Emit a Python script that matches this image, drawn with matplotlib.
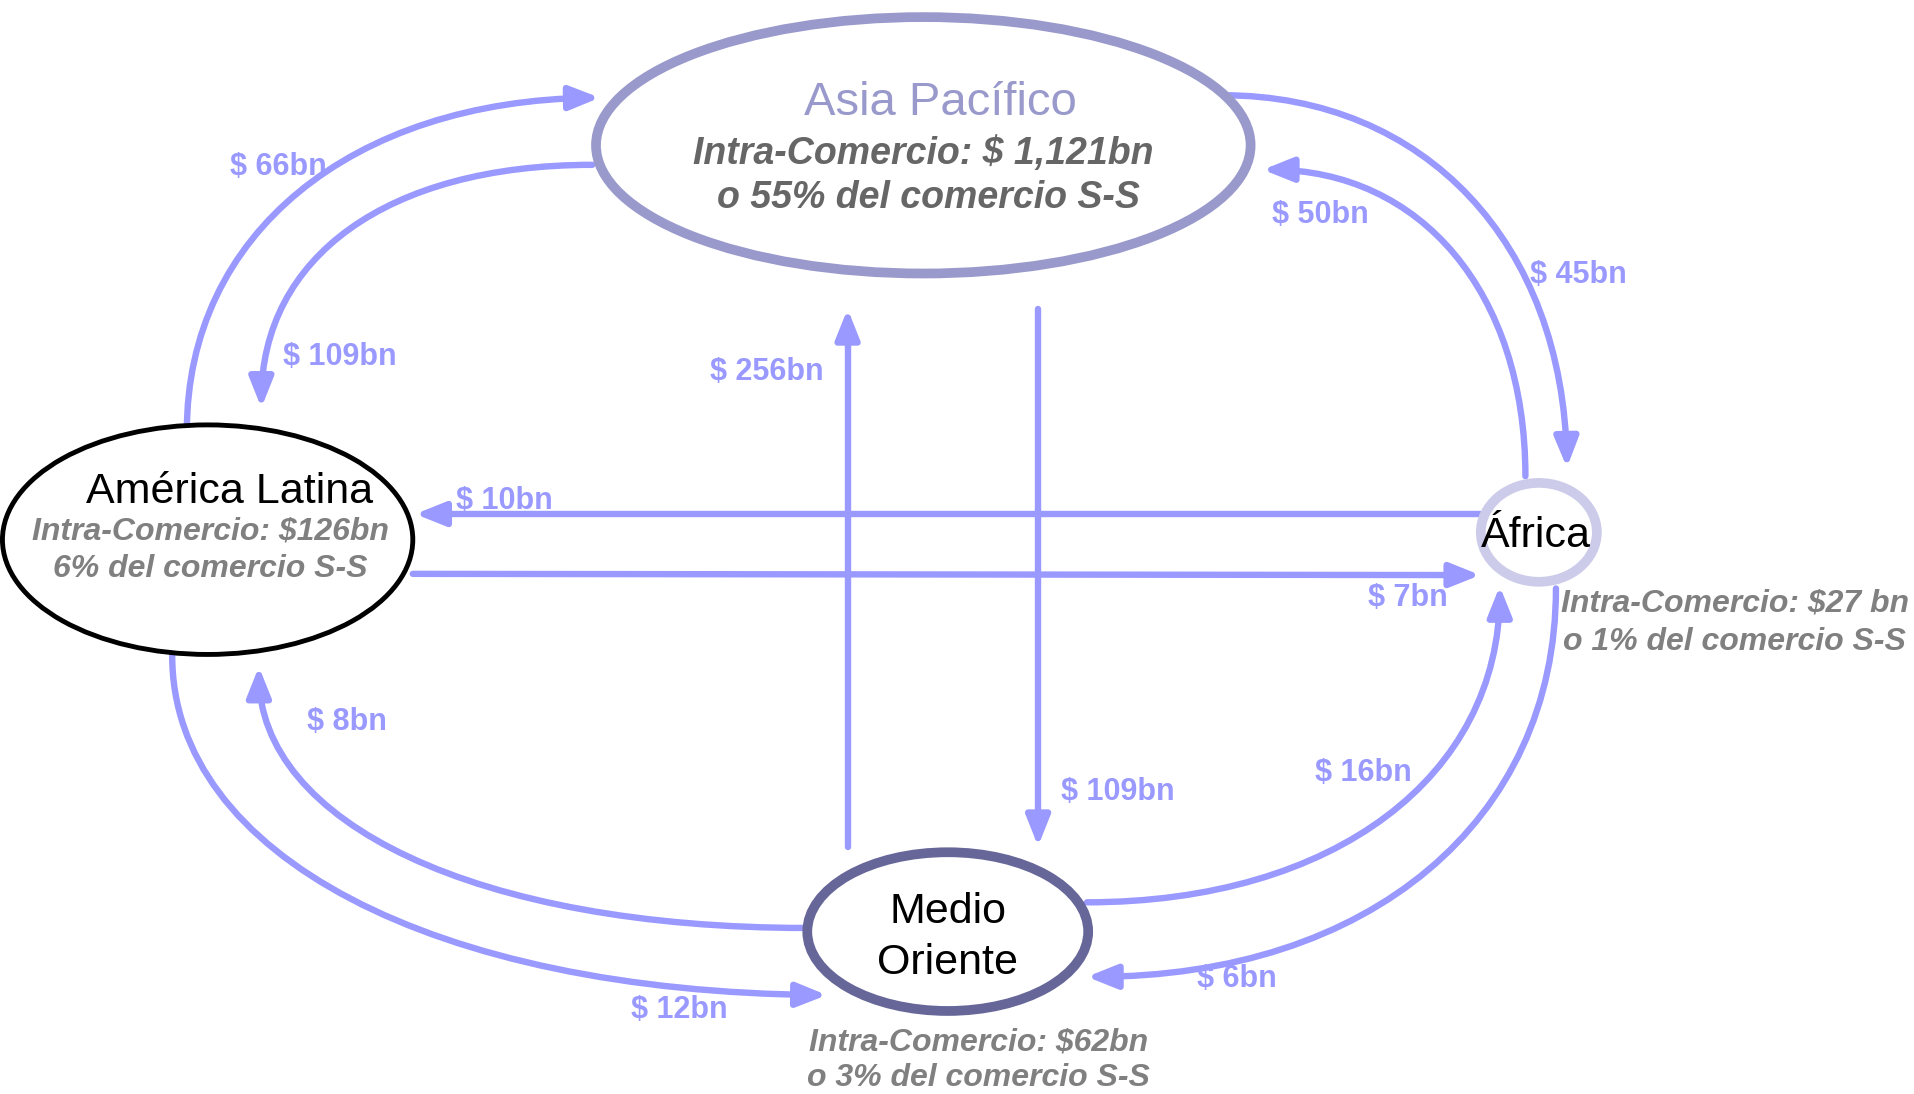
import matplotlib
matplotlib.use("Agg")
import matplotlib.pyplot as plt
from matplotlib.patches import Ellipse, FancyArrowPatch, ArrowStyle
from matplotlib.path import Path

plt.rcParams["font.family"] = ["Liberation Sans", "DejaVu Sans"]

# regions and their intra-regional trade
regions = ["Asia Pacífico", "América Latina", "África", "Medio\nOriente"]
intra_trade = ["Intra-Comercio: $ 1,121bn", "Intra-Comercio: $126bn",
               "Intra-Comercio: $27 bn", "Intra-Comercio: $62bn"]
intra_share = ["o 55% del comercio S-S", "6% del comercio S-S",
               "o 1% del comercio S-S", "o 3% del comercio S-S"]

# flows between regions (bn USD), in drawing order
flow_values = [66, 109, 45, 50, 10, 7, 256, 109, 8, 12, 16, 6]

FLOW = "#9999ff"
GREY = "#808080"

fig = plt.figure(figsize=(19.15, 10.94), dpi=100)
ax = fig.add_axes([0, 0, 1, 1])
ax.set_xlim(0, 1568)
ax.set_ylim(896, 0)
ax.axis("off")

style = ArrowStyle("-|>", head_length=0.9, head_width=0.36)


def curve(p0, p3, corner, k=0.6):
    # cubic bezier bent toward the corner point
    p1 = (p0[0] + k * (corner[0] - p0[0]), p0[1] + k * (corner[1] - p0[1]))
    p2 = (p3[0] + k * (corner[0] - p3[0]), p3[1] + k * (corner[1] - p3[1]))
    return Path([p0, p1, p2, p3], [Path.MOVETO, Path.CURVE4, Path.CURVE4, Path.CURVE4])


def straight(p0, p1):
    return Path([p0, p1], [Path.MOVETO, Path.LINETO])


paths = [
    curve((153, 353), (491, 80), (153, 84)),
    curve((485, 135), (214, 334), (214, 135), 0.62),
    curve((1001, 78), (1283, 383), (1278, 78)),
    curve((1249, 390), (1034, 139), (1249, 139)),
    straight((1212, 421), (340, 421)),
    straight((338, 470), (1212, 471)),
    straight((694, 694), (694, 253)),
    straight((850, 253), (850, 693)),
    curve((660, 760), (212, 546), (212, 760)),
    curve((141, 537), (677, 815), (141, 810)),
    curve((890, 739), (1228, 480), (1228, 739)),
    curve((1274, 482), (890, 800), (1274, 800)),
]
label_pos = [(228, 137), (278, 292), (1292, 225), (1081, 176), (413, 410),
             (1153, 490), (628, 305), (915, 649), (284, 591), (556, 827),
             (1116, 633), (1013, 802)]

for path, val, (lx, ly) in zip(paths, flow_values, label_pos):
    ax.add_patch(FancyArrowPatch(path=path, arrowstyle=style, mutation_scale=20,
                                 lw=4.6, color=FLOW, zorder=1))
    ax.text(lx, ly, f"$ {val}bn", color=FLOW, fontsize=22, fontweight="bold",
            ha="center", va="center", zorder=4)

# region bubbles
ax.add_patch(Ellipse((756, 119), 536, 210, fc="white", ec="#9999cc", lw=7, zorder=2))
ax.add_patch(Ellipse((170, 442), 336, 188, fc="white", ec="black", lw=3.5, zorder=2))
ax.add_patch(Ellipse((1260, 436), 95, 81, fc="white", ec="#ccccea", lw=7, zorder=2))
ax.add_patch(Ellipse((776, 763), 230, 130, fc="white", ec="#666699", lw=7, zorder=2))

# Asia Pacífico
ax.text(770, 84, regions[0], color="#9999cc", fontsize=34, ha="center", va="center", zorder=3)
ax.text(756, 126, intra_trade[0], color="#666666", fontsize=27, fontweight="bold",
        style="italic", ha="center", va="center", zorder=3)
ax.text(760, 162, intra_share[0], color="#666666", fontsize=27, fontweight="bold",
        style="italic", ha="center", va="center", zorder=3)

# América Latina
ax.text(188, 403, regions[1], color="black", fontsize=31, ha="center", va="center", zorder=3)
ax.text(172, 435, intra_trade[1], color=GREY, fontsize=23, fontweight="bold",
        style="italic", ha="center", va="center", zorder=3)
ax.text(172, 466, intra_share[1], color=GREY, fontsize=23, fontweight="bold",
        style="italic", ha="center", va="center", zorder=3)

# África
ax.text(1258, 439, regions[2], color="black", fontsize=31, ha="center", va="center", zorder=3)
ax.text(1278, 494, intra_trade[2], color=GREY, fontsize=23, fontweight="bold",
        style="italic", ha="left", va="center", zorder=3)
ax.text(1280, 526, intra_share[2], color=GREY, fontsize=23, fontweight="bold",
        style="italic", ha="left", va="center", zorder=3)

# Medio Oriente
ax.text(776, 768, regions[3], color="black", fontsize=31, ha="center", va="center",
        linespacing=1.35, zorder=3)
ax.text(801, 854, intra_trade[3], color=GREY, fontsize=23, fontweight="bold",
        style="italic", ha="center", va="center", zorder=3)
ax.text(801, 883, intra_share[3], color=GREY, fontsize=23, fontweight="bold",
        style="italic", ha="center", va="center", zorder=3)

fig.savefig("out.png", dpi=100, facecolor="white")
